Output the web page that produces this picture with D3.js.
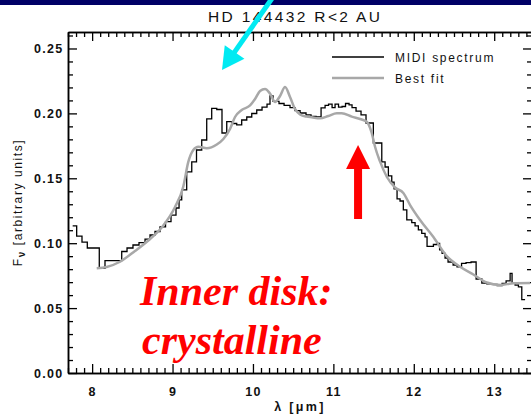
<!DOCTYPE html>
<html>
<head>
<meta charset="utf-8">
<script src="https://cdn.jsdelivr.net/npm/d3@7"></script>
<style>
  html, body { margin: 0; padding: 0; background: #fff; overflow: hidden; }
  svg { display: block; }
</style>
</head>
<body>
<svg id="chart" width="531" height="416"></svg>
<script>
// MIDI spectrum: left edge of each spectral bin (micron) and its flux
const binStart = [7.758, 7.808, 7.874, 7.940, 8.089, 8.160, 8.368, 8.434, 8.508, 8.583,
  8.658, 8.720, 8.782, 8.844, 8.913, 8.981, 9.043, 9.081, 9.114, 9.176,
  9.239, 9.298, 9.363, 9.425, 9.487, 9.550, 9.615, 9.674, 9.736, 9.798,
  9.860, 9.923, 9.985, 10.047, 10.113, 10.175, 10.212, 10.250, 10.324, 10.387,
  10.461, 10.523, 10.586, 10.660, 10.722, 10.785, 10.847, 10.897, 10.940, 10.984,
  11.021, 11.064, 11.108, 11.151, 11.195, 11.232, 11.282, 11.344, 11.406, 11.497,
  11.602, 11.643, 11.684, 11.726, 11.755, 11.792, 11.829, 11.870, 11.913, 11.975,
  12.016, 12.057, 12.099, 12.140, 12.165, 12.244, 12.290, 12.321, 12.352, 12.389,
  12.426, 12.489, 12.538, 12.594, 12.650, 12.712, 12.775, 12.846, 12.908, 12.974,
  13.036, 13.098, 13.148, 13.198, 13.222, 13.260, 13.301, 13.343];
const binLastEdge = 13.384;
const midiFlux = [0.1133, 0.1055, 0.1009, 0.0963, 0.0807, 0.0865, 0.0936, 0.0963, 0.0986, 0.1005,
  0.1032, 0.1063, 0.1090, 0.1125, 0.1166, 0.1217, 0.1271, 0.1333, 0.1410, 0.1549,
  0.1626, 0.1718, 0.1795, 0.1957, 0.2038, 0.2030, 0.1849, 0.1936, 0.1922, 0.1911,
  0.1949, 0.1972, 0.1999, 0.2026, 0.2049, 0.2072, 0.2134, 0.2092, 0.2076, 0.2061,
  0.2045, 0.2022, 0.2003, 0.1988, 0.1976, 0.1972, 0.2042, 0.2061, 0.2072, 0.2045,
  0.2072, 0.2049, 0.2053, 0.2076, 0.2065, 0.2045, 0.2018, 0.1988, 0.1926, 0.1772,
  0.1626, 0.1587, 0.1518, 0.1471, 0.1418, 0.1341, 0.1325, 0.1256, 0.1179, 0.1159,
  0.1133, 0.1102, 0.1075, 0.1048, 0.0975, 0.0990, 0.0998, 0.0948, 0.0921, 0.0886,
  0.0855, 0.0832, 0.0817, 0.0844, 0.0851, 0.0855, 0.0724, 0.0693, 0.0686, 0.0682,
  0.0674, 0.0690, 0.0709, 0.0767, 0.0690, 0.0678, 0.0663, 0.0566];

// Best-fit model
const fitWavelength = [8.057, 8.181, 8.347, 8.533, 8.699, 8.865, 9.031, 9.134, 9.196, 9.258,
  9.321, 9.425, 9.550, 9.632, 9.715, 9.777, 9.860, 9.964, 10.026, 10.088,
  10.150, 10.212, 10.275, 10.337, 10.399, 10.461, 10.523, 10.586, 10.669, 10.731,
  10.834, 10.938, 11.042, 11.104, 11.229, 11.353, 11.415, 11.477, 11.518, 11.581,
  11.664, 11.767, 11.870, 11.954, 12.078, 12.244, 12.410, 12.576, 12.741, 12.908,
  13.073, 13.239, 13.446];
const fitFlux = [0.0807, 0.0817, 0.0857, 0.0940, 0.1021, 0.1121, 0.1279, 0.1437, 0.1626, 0.1718,
  0.1743, 0.1731, 0.1760, 0.1803, 0.1880, 0.1972, 0.2026, 0.2061, 0.2111, 0.2173,
  0.2188, 0.2153, 0.2088, 0.2134, 0.2203, 0.2126, 0.2034, 0.1992, 0.1975, 0.1970,
  0.1962, 0.1980, 0.2001, 0.2001, 0.1975, 0.1953, 0.1936, 0.1849, 0.1743, 0.1628,
  0.1512, 0.1429, 0.1387, 0.1294, 0.1179, 0.1048, 0.0901, 0.0819, 0.0759, 0.0697,
  0.0678, 0.0691, 0.0693];

const xMajorTicks = [8, 9, 10, 11, 12, 13];
const yMajorTicks = [0, 0.05, 0.10, 0.15, 0.20, 0.25];
const yTickLabels = ["0.00", "0.05", "0.10", "0.15", "0.20", "0.25"];
const legendLabels = ["MIDI spectrum", "Best fit"];
const titleText = "HD 144432 R<2 AU";
const noteLines = ["Inner disk:", "crystalline"];

const svg = d3.select("#chart");
const frame = { left: 68, right: 532, top: 32, bottom: 373 };
const x = d3.scaleLinear().domain([7.7, 13.47]).range([frame.left, frame.right]);
const y = d3.scaleLinear().domain([0, 0.2627]).range([frame.bottom, frame.top]);

const sans = "'Liberation Sans', Arial, Helvetica, sans-serif";
const ink = "#000";

// navy banner strip at the very top
svg.append("rect").attr("x", 0).attr("y", 0).attr("width", 531).attr("height", 5).attr("fill", "#000066");

// title
svg.append("text")
  .attr("x", 294).attr("y", 22)
  .attr("text-anchor", "middle")
  .attr("font-family", sans).attr("font-size", 15.5)
  .attr("textLength", 172).attr("lengthAdjust", "spacing")
  .attr("fill", "#111")
  .text(titleText);

// minor tick values
const xMinor = d3.range(77, 135).map(d => d / 10).filter(d => Math.abs(d - Math.round(d)) > 1e-6);
const yMinor = d3.range(0, 27).map(d => d / 100).filter(d => d <= 0.2627 && Math.round(d * 100) % 5 !== 0);

function styleAxis(g) {
  g.select(".domain").attr("stroke", ink).attr("stroke-width", 1.5);
  g.selectAll(".tick line").attr("stroke", ink).attr("stroke-width", 1.3);
  g.selectAll("text")
    .attr("font-family", sans).attr("font-size", 12.5).attr("font-weight", "bold")
    .attr("letter-spacing", "1.3px").attr("fill", "#111");
}

// bottom axis
svg.append("g").attr("transform", `translate(0,${frame.bottom})`)
  .call(d3.axisBottom(x).tickValues(xMajorTicks).tickSize(-9).tickSizeOuter(0).tickPadding(14.5).tickFormat(d3.format("d")))
  .call(styleAxis);
svg.append("g").attr("transform", `translate(0,${frame.bottom})`)
  .call(d3.axisBottom(x).tickValues(xMinor).tickSize(-5).tickSizeOuter(0).tickFormat(""))
  .call(styleAxis);
// top axis
svg.append("g").attr("transform", `translate(0,${frame.top})`)
  .call(d3.axisTop(x).tickValues(xMajorTicks).tickSize(-9).tickSizeOuter(0).tickFormat(""))
  .call(styleAxis);
svg.append("g").attr("transform", `translate(0,${frame.top})`)
  .call(d3.axisTop(x).tickValues(xMinor).tickSize(-5).tickSizeOuter(0).tickFormat(""))
  .call(styleAxis);
// left axis
svg.append("g").attr("transform", `translate(${frame.left},0)`)
  .call(d3.axisLeft(y).tickValues(yMajorTicks).tickSize(-9).tickSizeOuter(0).tickPadding(4.5)
    .tickFormat((d, i) => yTickLabels[i]))
  .call(styleAxis);
svg.append("g").attr("transform", `translate(${frame.left},0)`)
  .call(d3.axisLeft(y).tickValues(yMinor).tickSize(-5).tickSizeOuter(0).tickFormat(""))
  .call(styleAxis);
// right axis
svg.append("g").attr("transform", `translate(${frame.right},0)`)
  .call(d3.axisRight(y).tickValues(yMajorTicks).tickSize(-9).tickSizeOuter(0).tickFormat(""))
  .call(styleAxis);
svg.append("g").attr("transform", `translate(${frame.right},0)`)
  .call(d3.axisRight(y).tickValues(yMinor).tickSize(-5).tickSizeOuter(0).tickFormat(""))
  .call(styleAxis);

// axis titles
const yTitle = svg.append("text")
  .attr("transform", `translate(22,${(frame.top + frame.bottom) / 2}) rotate(-90)`)
  .attr("text-anchor", "middle")
  .attr("font-family", sans).attr("font-size", 12).attr("letter-spacing", "1.6px").attr("fill", "#111");
yTitle.append("tspan").text("F");
yTitle.append("tspan").attr("dy", 3).attr("font-size", 10).attr("font-weight", "bold").text("ν");
yTitle.append("tspan").attr("dy", -3).text(" [arbitrary units]");

svg.append("text")
  .attr("x", (frame.left + frame.right) / 2).attr("y", 411)
  .attr("text-anchor", "middle")
  .attr("font-family", sans).attr("font-size", 12.5).attr("font-weight", "bold")
  .attr("letter-spacing", "2.3px").attr("fill", "#111")
  .text("λ [μm]");

// MIDI spectrum as a histogram-style step line
const stepPoints = binStart.map((w, i) => [w, midiFlux[i]]);
stepPoints.push([binLastEdge, midiFlux[midiFlux.length - 1]]);
svg.append("path")
  .attr("d", d3.line().x(d => x(d[0])).y(d => y(d[1])).curve(d3.curveStepAfter)(stepPoints))
  .attr("fill", "none").attr("stroke", "#000").attr("stroke-width", 1.3);

// best-fit model
const fitPoints = fitWavelength.map((w, i) => [w, fitFlux[i]]);
svg.append("path")
  .attr("d", d3.line().x(d => x(d[0])).y(d => y(d[1])).curve(d3.curveMonotoneX)(fitPoints))
  .attr("fill", "none").attr("stroke", "#a8a8a8").attr("stroke-width", 2.5)
  .attr("stroke-linejoin", "round");

// legend
const legend = svg.append("g");
[[ "#000", 1.3, 57 ], [ "#a8a8a8", 2.5, 78 ]].forEach(([color, w, ly], i) => {
  legend.append("line").attr("x1", 332).attr("x2", 384).attr("y1", ly).attr("y2", ly)
    .attr("stroke", color).attr("stroke-width", w);
  legend.append("text").attr("x", 395).attr("y", ly + 4.5)
    .attr("font-family", sans).attr("font-size", 12).attr("letter-spacing", "1.7px")
    .attr("fill", "#111").text(legendLabels[i]);
});

// red annotation text
noteLines.forEach((t, i) => {
  svg.append("text")
    .attr("x", i === 0 ? 140 : 142).attr("y", i === 0 ? 305 : 354)
    .attr("font-family", "'Liberation Serif', 'Times New Roman', serif")
    .attr("font-size", 42).attr("font-weight", "bold").attr("font-style", "italic")
    .attr("fill", "#ff0000").text(t);
});

// red arrow pointing up at the 11.3 micron feature
const ax = x(11.307), aTip = y(0.1757), aBase = y(0.1572), aEnd = y(0.1186);
svg.append("path")
  .attr("d", `M${ax},${aTip} L${ax + 12},${aBase} L${ax + 4},${aBase} L${ax + 4},${aEnd} L${ax - 4},${aEnd} L${ax - 4},${aBase} L${ax - 12},${aBase} Z`)
  .attr("fill", "#ff0000");

// cyan arrow pointing at the 9.6 micron region
const cTipX = x(9.615), cTipY = y(0.2334);
const cStartX = 273, cStartY = -3;
const len = Math.hypot(cTipX - cStartX, cTipY - cStartY);
const ux = (cTipX - cStartX) / len, uy = (cTipY - cStartY) / len;
const headLen = 22, headHalf = 12;
const bx = cTipX - ux * headLen, by = cTipY - uy * headLen;
svg.append("line")
  .attr("x1", cStartX).attr("y1", cStartY).attr("x2", bx + ux * 2).attr("y2", by + uy * 2)
  .attr("stroke", "#00eaf2").attr("stroke-width", 5);
svg.append("path")
  .attr("d", `M${cTipX},${cTipY} L${bx - uy * headHalf},${by + ux * headHalf} L${bx + uy * headHalf},${by - ux * headHalf} Z`)
  .attr("fill", "#00eaf2");
</script>
</body>
</html>
